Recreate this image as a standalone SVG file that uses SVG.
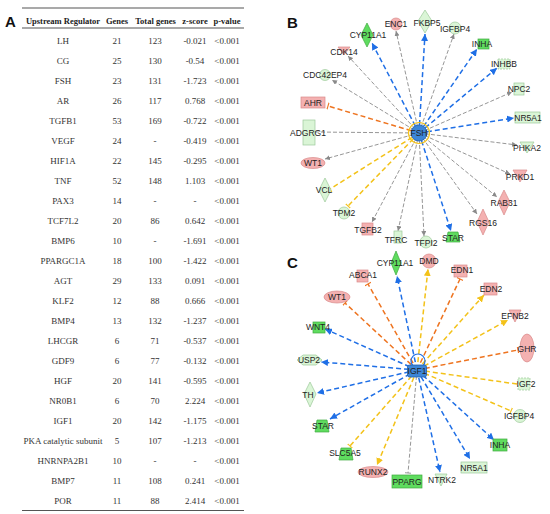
<svg xmlns="http://www.w3.org/2000/svg" width="550" height="514" viewBox="0 0 550 514">
<style>
.th{font-family:"Liberation Serif",serif;font-size:8.5px;font-weight:bold;fill:#222;text-anchor:middle}
.td{font-family:"Liberation Serif",serif;font-size:9px;fill:#333;text-anchor:middle}
.pl{font-family:"Liberation Sans",Arial,sans-serif;font-size:15px;font-weight:bold;fill:#111}
.lb{font-family:"Liberation Sans",Arial,sans-serif;font-size:8.5px;fill:#222;text-anchor:middle}
.rule{stroke:#555;stroke-width:1.2}
.pk{fill:#f4b1b1;stroke:#d98a8a;stroke-width:0.7}
.lg{fill:#daf5d6;stroke:#9cc99a;stroke-width:0.7}
.sg{fill:#5fdc5f;stroke:#3faa3f;stroke-width:0.7}
.dsh{stroke-dasharray:2,1}
.eb{stroke:#1f6fe6;stroke-width:1.5;stroke-dasharray:5,3;fill:none}
.eo{stroke:#ee7420;stroke-width:1.5;stroke-dasharray:5,3;fill:none}
.ey{stroke:#f3c21a;stroke-width:1.5;stroke-dasharray:5,3;fill:none}
.eg{stroke:#8a8a8a;stroke-width:0.9;stroke-dasharray:4,2;fill:none}
</style>
<defs>
<marker id="aB" viewBox="0 0 10 10" refX="10" refY="5" markerWidth="7" markerHeight="7" markerUnits="userSpaceOnUse" orient="auto"><path d="M0,0L10,5L0,10z" fill="#1f6fe6"/></marker>
<marker id="aY" viewBox="0 0 10 10" refX="10" refY="5" markerWidth="7" markerHeight="7" markerUnits="userSpaceOnUse" orient="auto"><path d="M0,0L10,5L0,10z" fill="#f3c21a"/></marker>
<marker id="aG" viewBox="0 0 10 10" refX="10" refY="5" markerWidth="5" markerHeight="5" markerUnits="userSpaceOnUse" orient="auto"><path d="M0,0L10,5L0,10z" fill="#8a8a8a"/></marker>
<marker id="bO" viewBox="0 0 4 10" refX="2" refY="5" markerWidth="3" markerHeight="7" markerUnits="userSpaceOnUse" orient="auto"><path d="M2,0L2,10" stroke="#ee7420" stroke-width="1.6"/></marker>
<marker id="bY" viewBox="0 0 4 10" refX="2" refY="5" markerWidth="3" markerHeight="7" markerUnits="userSpaceOnUse" orient="auto"><path d="M2,0L2,10" stroke="#f3c21a" stroke-width="1.6"/></marker>
<marker id="bG" viewBox="0 0 4 10" refX="2" refY="5" markerWidth="3" markerHeight="6" markerUnits="userSpaceOnUse" orient="auto"><path d="M2,0L2,10" stroke="#8a8a8a" stroke-width="1.4"/></marker>
</defs>
<rect width="550" height="514" fill="#fff"/>

<!-- Panel A table -->
<g id="tableA">
<text class="pl" x="5" y="27">A</text>
<line class="rule" x1="22" y1="8" x2="244" y2="8"/>
<line class="rule" x1="22" y1="28" x2="244" y2="28"/>
<line class="rule" x1="22" y1="510.5" x2="244" y2="510.5"/>
<text class="th" x="63" y="24">Upstream Regulator</text>
<text class="th" x="117" y="24">Genes</text>
<text class="th" x="155.5" y="24">Total genes</text>
<text class="th" x="195" y="24">z-score</text>
<text class="th" x="227" y="24">p-value</text>
<g class="td">
<text x="63" y="44">LH</text><text x="117" y="44">21</text><text x="155" y="44">123</text><text x="195" y="44">-0.021</text><text x="227" y="44">&lt;0.001</text>
<text x="63" y="64">CG</text><text x="117" y="64">25</text><text x="155" y="64">130</text><text x="195" y="64">-0.54</text><text x="227" y="64">&lt;0.001</text>
<text x="63" y="84">FSH</text><text x="117" y="84">23</text><text x="155" y="84">131</text><text x="195" y="84">-1.723</text><text x="227" y="84">&lt;0.001</text>
<text x="63" y="104">AR</text><text x="117" y="104">26</text><text x="155" y="104">117</text><text x="195" y="104">0.768</text><text x="227" y="104">&lt;0.001</text>
<text x="63" y="124">TGFB1</text><text x="117" y="124">53</text><text x="155" y="124">169</text><text x="195" y="124">-0.722</text><text x="227" y="124">&lt;0.001</text>
<text x="63" y="144">VEGF</text><text x="117" y="144">24</text><text x="155" y="144">-</text><text x="195" y="144">-0.419</text><text x="227" y="144">&lt;0.001</text>
<text x="63" y="164">HIF1A</text><text x="117" y="164">22</text><text x="155" y="164">145</text><text x="195" y="164">-0.295</text><text x="227" y="164">&lt;0.001</text>
<text x="63" y="184">TNF</text><text x="117" y="184">52</text><text x="155" y="184">148</text><text x="195" y="184">1.103</text><text x="227" y="184">&lt;0.001</text>
<text x="63" y="204">PAX3</text><text x="117" y="204">14</text><text x="155" y="204">-</text><text x="195" y="204">-</text><text x="227" y="204">&lt;0.001</text>
<text x="63" y="224">TCF7L2</text><text x="117" y="224">20</text><text x="155" y="224">86</text><text x="195" y="224">0.642</text><text x="227" y="224">&lt;0.001</text>
<text x="63" y="244">BMP6</text><text x="117" y="244">10</text><text x="155" y="244">-</text><text x="195" y="244">-1.691</text><text x="227" y="244">&lt;0.001</text>
<text x="63" y="264">PPARGC1A</text><text x="117" y="264">18</text><text x="155" y="264">100</text><text x="195" y="264">-1.422</text><text x="227" y="264">&lt;0.001</text>
<text x="63" y="284">AGT</text><text x="117" y="284">29</text><text x="155" y="284">133</text><text x="195" y="284">0.091</text><text x="227" y="284">&lt;0.001</text>
<text x="63" y="304">KLF2</text><text x="117" y="304">12</text><text x="155" y="304">88</text><text x="195" y="304">0.666</text><text x="227" y="304">&lt;0.001</text>
<text x="63" y="324">BMP4</text><text x="117" y="324">13</text><text x="155" y="324">132</text><text x="195" y="324">-1.237</text><text x="227" y="324">&lt;0.001</text>
<text x="63" y="344">LHCGR</text><text x="117" y="344">6</text><text x="155" y="344">71</text><text x="195" y="344">-0.537</text><text x="227" y="344">&lt;0.001</text>
<text x="63" y="364">GDF9</text><text x="117" y="364">6</text><text x="155" y="364">77</text><text x="195" y="364">-0.132</text><text x="227" y="364">&lt;0.001</text>
<text x="63" y="384">HGF</text><text x="117" y="384">20</text><text x="155" y="384">141</text><text x="195" y="384">-0.595</text><text x="227" y="384">&lt;0.001</text>
<text x="63" y="404">NR0B1</text><text x="117" y="404">6</text><text x="155" y="404">70</text><text x="195" y="404">2.224</text><text x="227" y="404">&lt;0.001</text>
<text x="63" y="424">IGF1</text><text x="117" y="424">20</text><text x="155" y="424">142</text><text x="195" y="424">-1.175</text><text x="227" y="424">&lt;0.001</text>
<text x="63" y="444">PKA catalytic subunit</text><text x="117" y="444">5</text><text x="155" y="444">107</text><text x="195" y="444">-1.213</text><text x="227" y="444">&lt;0.001</text>
<text x="63" y="464">HNRNPA2B1</text><text x="117" y="464">10</text><text x="155" y="464">-</text><text x="195" y="464">-</text><text x="227" y="464">&lt;0.001</text>
<text x="63" y="484">BMP7</text><text x="117" y="484">11</text><text x="155" y="484">108</text><text x="195" y="484">0.241</text><text x="227" y="484">&lt;0.001</text>
<text x="63" y="504">POR</text><text x="117" y="504">11</text><text x="155" y="504">88</text><text x="195" y="504">2.414</text><text x="227" y="504">&lt;0.001</text>
</g>
</g>

<text class="pl" x="287" y="28">B</text>
<text class="pl" x="287" y="268">C</text>

<!-- Connectors -->
<g id="connectors">
<!-- Panel B from FSH (419,133) -->
<line class="eb" x1="419" y1="133" x2="372" y2="43" marker-end="url(#aB)"/>
<line class="eg" x1="419" y1="133" x2="396" y2="31" marker-end="url(#aG)"/>
<line class="eb" x1="419" y1="133" x2="425" y2="34" marker-end="url(#aB)"/>
<line class="eg" x1="419" y1="133" x2="454" y2="34" marker-end="url(#aG)"/>
<line class="eb" x1="419" y1="133" x2="477" y2="49" marker-end="url(#aB)"/>
<line class="eb" x1="419" y1="133" x2="497" y2="68" marker-end="url(#aB)"/>
<line class="eg" x1="419" y1="133" x2="512" y2="92" marker-end="url(#aG)"/>
<line class="eb" x1="419" y1="133" x2="514" y2="118" marker-end="url(#aB)"/>
<line class="eg" x1="419" y1="133" x2="517" y2="145" marker-end="url(#aG)"/>
<line class="eg" x1="419" y1="133" x2="510" y2="174" marker-end="url(#aG)"/>
<line class="eg" x1="419" y1="133" x2="497" y2="197" marker-end="url(#aG)"/>
<line class="eg" x1="419" y1="133" x2="477" y2="214" marker-end="url(#aG)"/>
<line class="eb" x1="419" y1="133" x2="451" y2="231" marker-end="url(#aB)"/>
<line class="eg" x1="419" y1="133" x2="424" y2="236" marker-end="url(#aG)"/>
<line class="eg" x1="419" y1="133" x2="398" y2="231" marker-end="url(#aG)"/>
<line class="eg" x1="419" y1="133" x2="372" y2="222" marker-end="url(#aG)"/>
<line class="ey" x1="419" y1="133" x2="348" y2="206" marker-end="url(#bY)"/>
<line class="ey" x1="419" y1="133" x2="330" y2="189" marker-end="url(#bY)"/>
<line class="eg" x1="419" y1="133" x2="325" y2="159" marker-end="url(#aG)"/>
<line class="eg" x1="315" y1="132" x2="419" y2="133"/>
<line class="eo" x1="419" y1="133" x2="328" y2="106" marker-end="url(#bO)"/>
<line class="eg" x1="419" y1="133" x2="332" y2="80" marker-end="url(#aG)"/>
<line class="eg" x1="419" y1="133" x2="348" y2="56" marker-end="url(#aG)"/>
<!-- Panel C from IGF1 (417,370) -->
<line class="eb" x1="417" y1="370" x2="397" y2="276" marker-end="url(#aB)"/>
<line class="ey" x1="417" y1="370" x2="428" y2="269" marker-end="url(#aY)"/>
<line class="eo" x1="417" y1="370" x2="368" y2="284" marker-end="url(#bO)"/>
<line class="eo" x1="417" y1="370" x2="460" y2="279" marker-end="url(#bO)"/>
<line class="ey" x1="417" y1="370" x2="484" y2="295" marker-end="url(#aY)"/>
<line class="ey" x1="417" y1="370" x2="508" y2="320" marker-end="url(#aY)"/>
<line class="eo" x1="417" y1="370" x2="518" y2="350" marker-end="url(#bO)"/>
<line class="ey" x1="417" y1="370" x2="517" y2="384"/>
<line class="ey" x1="417" y1="370" x2="511" y2="411" marker-end="url(#bY)"/>
<line class="eb" x1="417" y1="370" x2="494" y2="440" marker-end="url(#aB)"/>
<line class="eb" x1="417" y1="370" x2="470" y2="459" marker-end="url(#aB)"/>
<line class="eb" x1="417" y1="370" x2="440" y2="472" marker-end="url(#aB)"/>
<line class="eg" x1="417" y1="370" x2="408" y2="473" marker-end="url(#bG)"/>
<line class="ey" x1="417" y1="370" x2="377" y2="465" marker-end="url(#aY)"/>
<line class="ey" x1="417" y1="370" x2="350" y2="446" marker-end="url(#bY)"/>
<line class="eb" x1="417" y1="370" x2="330" y2="419" marker-end="url(#aB)"/>
<line class="eb" x1="417" y1="370" x2="317" y2="393" marker-end="url(#aB)"/>
<line class="eb" x1="417" y1="370" x2="321" y2="362" marker-end="url(#aB)"/>
<line class="eb" x1="417" y1="370" x2="325" y2="329" marker-end="url(#aB)"/>
<line class="eo" x1="417" y1="370" x2="345" y2="303" marker-end="url(#bO)"/>
</g>

<!-- Panel B nodes -->
<g id="B_FSH"><circle cx="419" cy="133" r="10.5" fill="none" stroke="#f3c21a" stroke-width="1.2"/><circle cx="419" cy="133" r="8" fill="#3d86d8" stroke="#1f5fb0" stroke-width="0.8"/><text class="lb" x="419" y="136">FSH</text></g>
<g id="B_CYP11A1"><path class="sg" d="M367,23L373,35L367,47L361,35z"/><text class="lb" x="368" y="38">CYP11A1</text></g>
<g id="B_ENC1"><circle class="pk" cx="396" cy="24" r="6"/><text class="lb" x="396" y="27">ENC1</text></g>
<g id="B_FKBP5"><path class="lg" d="M425,10L432,21L425,33L418,21z"/><text class="lb" x="427" y="26">FKBP5</text></g>
<g id="B_IGFBP4"><circle class="lg" cx="455" cy="28" r="6"/><text class="lb" x="455" y="32">IGFBP4</text></g>
<g id="B_INHA"><rect class="sg" x="478" y="39" width="11" height="10"/><text class="lb" x="482" y="47">INHA</text></g>
<g id="B_INHBB"><rect class="lg dsh" x="498" y="59" width="12" height="10"/><text class="lb" x="504" y="67">INHBB</text></g>
<g id="B_NPC2"><rect class="lg" x="514" y="83" width="10" height="12"/><text class="lb" x="519" y="92">NPC2</text></g>
<g id="B_NR5A1"><rect class="lg" x="515" y="112" width="25" height="11"/><text class="lb" x="528" y="121">NR5A1</text></g>
<g id="B_PHKA2"><path class="lg" d="M520,142L534,142L527,153z"/><text class="lb" x="527" y="151">PHKA2</text></g>
<g id="B_PRKD1"><path class="pk" d="M513,170L527,170L520,182z"/><text class="lb" x="520" y="180">PRKD1</text></g>
<g id="B_RAB31"><path class="pk" d="M504,190L510,202L504,215L498,202z"/><text class="lb" x="504" y="206">RAB31</text></g>
<g id="B_RGS16"><path class="pk" d="M483,209L489,222L483,235L477,222z"/><text class="lb" x="483" y="226">RGS16</text></g>
<g id="B_STAR"><path class="sg" d="M448,232L458,232L460,242L446,242z"/><text class="lb" x="453" y="241">STAR</text></g>
<g id="B_TFPI2"><circle class="lg" cx="426" cy="242" r="6"/><text class="lb" x="426" y="246">TFPI2</text></g>
<g id="B_TFRC"><rect class="lg" x="394" y="231" width="8" height="12"/><text class="lb" x="396" y="243">TFRC</text></g>
<g id="B_TGFB2"><rect class="pk" x="362" y="223" width="11" height="12"/><text class="lb" x="368" y="233">TGFB2</text></g>
<g id="B_TPM2"><circle class="lg" cx="344" cy="213" r="6"/><text class="lb" x="344" y="216">TPM2</text></g>
<g id="B_VCL"><path class="lg" d="M325,178L331,190L325,202L319,190z"/><text class="lb" x="324" y="193">VCL</text></g>
<g id="B_WT1"><ellipse class="pk" cx="313" cy="163" rx="12" ry="5.5"/><text class="lb" x="313" y="166">WT1</text></g>
<g id="B_ADGRG1"><rect class="lg" x="303" y="120" width="12" height="25"/><text class="lb" x="308" y="136">ADGRG1</text></g>
<g id="B_AHR"><rect class="pk" x="301" y="97" width="24" height="11"/><text class="lb" x="313" y="106">AHR</text></g>
<g id="B_CDC42EP4"><circle class="lg" cx="325" cy="75" r="5.5"/><text class="lb" x="325" y="78">CDC42EP4</text></g>
<g id="B_CDK14"><path class="pk" d="M338,47L350,47L344,55z"/><text class="lb" x="344" y="55">CDK14</text></g>

<!-- Panel C nodes -->
<g id="C_IGF1"><circle cx="418" cy="361" r="7" fill="none" stroke="#1f6fe6" stroke-width="1.2"/><rect x="407.5" y="365" width="19" height="12" rx="2" fill="#3d86d8" stroke="#1f5fb0" stroke-width="0.8"/><text class="lb" x="417" y="374">IGF1</text></g>
<g id="C_CYP11A1"><path class="sg" d="M396,251L401,263L396,275L391,263z"/><text class="lb" x="395" y="266">CYP11A1</text></g>
<g id="C_DMD"><circle class="pk" cx="429" cy="261" r="7"/><text class="lb" x="429" y="264">DMD</text></g>
<g id="C_ABCA1"><rect class="pk" x="357" y="270" width="11" height="12"/><text class="lb" x="363" y="278">ABCA1</text></g>
<g id="C_EDN1"><rect class="pk" x="454" y="265" width="13" height="12"/><text class="lb" x="462" y="273">EDN1</text></g>
<g id="C_EDN2"><rect class="pk" x="484" y="283" width="13" height="12"/><text class="lb" x="491" y="292">EDN2</text></g>
<g id="C_EFNB2"><path class="pk" d="M509,310L521,310L515,322z"/><text class="lb" x="515" y="319">EFNB2</text></g>
<g id="C_GHR"><ellipse class="pk" cx="527" cy="348" rx="7" ry="14"/><text class="lb" x="527" y="352">GHR</text></g>
<g id="C_IGF2"><rect class="lg dsh" x="518" y="378" width="12" height="12"/><text class="lb" x="526" y="387">IGF2</text></g>
<g id="C_IGFBP4"><circle class="lg" cx="520" cy="416" r="6.5"/><text class="lb" x="519" y="419">IGFBP4</text></g>
<g id="C_INHA"><rect class="sg" x="493" y="439" width="14" height="12"/><text class="lb" x="500" y="448">INHA</text></g>
<g id="C_NR5A1"><rect class="lg" x="461" y="462" width="26" height="11"/><text class="lb" x="474" y="471">NR5A1</text></g>
<g id="C_NTRK2"><path class="lg" d="M435,474L447,474L441,486z"/><text class="lb" x="442" y="483">NTRK2</text></g>
<g id="C_PPARG"><rect class="sg" x="392" y="475" width="30" height="13"/><text class="lb" x="407" y="485">PPARG</text></g>
<g id="C_RUNX2"><ellipse class="pk" cx="373" cy="472" rx="15" ry="5.5"/><text class="lb" x="373" y="475">RUNX2</text></g>
<g id="C_SLC5A5"><path class="sg" d="M341,448L351,448L353,460L339,460z"/><text class="lb" x="345" y="456">SLC5A5</text></g>
<g id="C_STAR"><path class="sg" d="M317,420L327,420L329,432L315,432z"/><text class="lb" x="323" y="429">STAR</text></g>
<g id="C_TH"><path class="lg" d="M310,382L316,394L310,407L304,394z"/><text class="lb" x="308" y="398">TH</text></g>
<g id="C_USP2"><path class="lg" d="M297,360L303,355L316,355L322,360L316,365L303,365z"/><text class="lb" x="309" y="363">USP2</text></g>
<g id="C_WNT4"><rect class="sg" x="313" y="322" width="12" height="11"/><text class="lb" x="318" y="330">WNT4</text></g>
<g id="C_WT1"><ellipse class="pk" cx="337" cy="297" rx="13" ry="6"/><text class="lb" x="337" y="300">WT1</text></g>
</svg>
